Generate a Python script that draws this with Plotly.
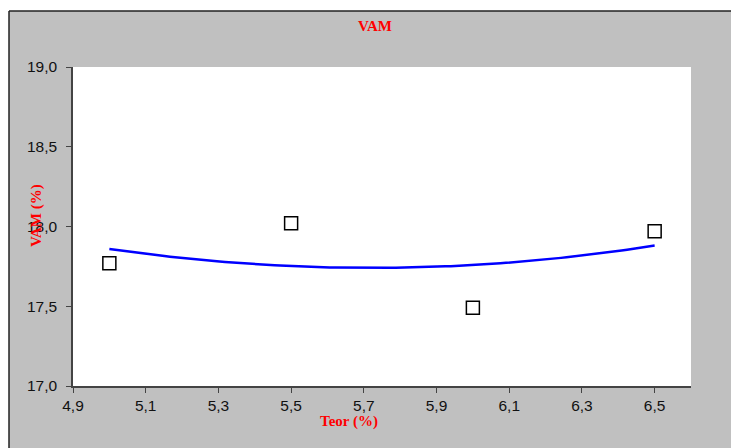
import numpy as np
import plotly.graph_objects as go

teor = [5.0, 5.5, 6.0, 6.5]
vam = [17.77, 18.02, 17.49, 17.97]
x_ticks = [4.9, 5.1, 5.3, 5.5, 5.7, 5.9, 6.1, 6.3, 6.5]
y_ticks = [17.0, 17.5, 18.0, 18.5, 19.0]

# 2nd-order polynomial trendline of the data
coef = np.polyfit(teor, vam, 2)
xt = np.linspace(min(teor), max(teor), 100)
yt = np.polyval(coef, xt)

W, H = 731, 448
L, R, T, B = 73, 40, 67, 62
pw, ph = W - L - R, H - T - B

def px(x):
    return (x - L) / pw

def py(y):
    return (H - B - y) / ph

fig = go.Figure()
fig.add_trace(go.Scatter(x=xt, y=yt, mode="lines",
                         line=dict(color="#0000FF", width=2.5),
                         hoverinfo="skip", showlegend=False))
fig.add_trace(go.Scatter(x=teor, y=vam, mode="markers",
                         marker=dict(symbol="square-open", size=13,
                                     color="black", line=dict(width=1.5)),
                         showlegend=False))

serif = "Liberation Serif, Times New Roman, serif"
tickfont = dict(family="Liberation Sans, Arial", size=15.5, color="#111111")
fig.update_layout(
    width=W, height=H,
    margin=dict(l=L, r=R, t=T, b=B),
    paper_bgcolor="#C0C0C0",
    plot_bgcolor="white",
    separators=",.",
    showlegend=False,
    xaxis=dict(range=[4.9, 6.6], tickvals=x_ticks, tickformat=".1f",
               showgrid=False, zeroline=False, showline=True,
               linecolor="#444444", linewidth=1.5, ticks="outside",
               ticklen=5, tickcolor="#444444", ticklabelstandoff=0,
               tickfont=tickfont),
    yaxis=dict(range=[17.0, 19.0], tickvals=y_ticks, tickformat=".1f",
               showgrid=False, zeroline=False, showline=True,
               linecolor="#444444", linewidth=1.5, ticks="outside",
               ticklen=5, tickcolor="#444444", ticklabelstandoff=6,
               tickfont=tickfont),
    shapes=[
        dict(type="rect", xref="paper", yref="paper",
             x0=px(0), x1=px(W), y0=py(0), y1=py(11),
             fillcolor="white", line=dict(width=0), layer="above"),
        dict(type="rect", xref="paper", yref="paper",
             x0=px(0), x1=px(9), y0=py(0), y1=py(H),
             fillcolor="white", line=dict(width=0), layer="above"),
        dict(type="line", xref="paper", yref="paper",
             x0=px(9), x1=px(W), y0=py(11), y1=py(11),
             line=dict(color="#222222", width=1.5), layer="above"),
        dict(type="line", xref="paper", yref="paper",
             x0=px(9), x1=px(9), y0=py(11), y1=py(H),
             line=dict(color="#222222", width=1.5), layer="above"),
    ],
    annotations=[
        dict(text="<b>VAM</b>", xref="paper", yref="paper",
             x=px(375), y=py(26), showarrow=False,
             xanchor="center", yanchor="middle",
             font=dict(family=serif, size=15, color="#FF0000")),
        dict(text="<b>VAM (%)</b>", xref="paper", yref="paper",
             x=px(36), y=py(216), showarrow=False, textangle=-90,
             xanchor="center", yanchor="middle",
             font=dict(family=serif, size=15, color="#FF0000")),
        dict(text="<b>Teor (%)</b>", xref="paper", yref="paper",
             x=px(349), y=py(421), showarrow=False,
             xanchor="center", yanchor="middle",
             font=dict(family=serif, size=15, color="#FF0000")),
    ],
)

fig.write_html("out.html")
